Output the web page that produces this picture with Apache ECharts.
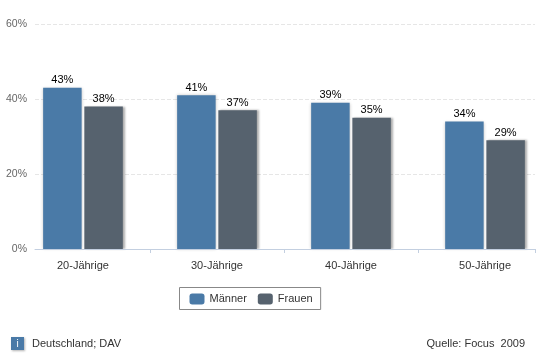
<!DOCTYPE html>
<html><head><meta charset="utf-8">
<style>html,body{margin:0;padding:0;background:#fff}#c{width:540px;height:361px}</style>
<script src="https://cdn.jsdelivr.net/npm/echarts@6/dist/echarts.min.js"></script>
</head><body><div id="c"></div>
<script>
const categories = ["20-Jährige","30-Jährige","40-Jährige","50-Jährige"];
const maenner = [43,41,39,34];
const frauen = [38,37,35,29];
const yTicks = [0,20,40,60];
const positions = categories.map((_,i)=>i);
const boundaries = [0.5,1.5,2.5,3.373];
const F = '"Liberation Sans", Arial, sans-serif';
const chart = echarts.init(document.getElementById('c'),null,{renderer:'canvas'});
const lab = {show:true,position:'top',distance:2,formatter:p=>p.value[1]+'%',color:'#000',fontFamily:F,fontSize:11};
const plain = c => ({color:c,borderWidth:0,shadowBlur:0,shadowOffsetX:0,shadowOffsetY:0,borderRadius:2});
chart.setOption({
  animation:false,
  backgroundColor:'#fff',
  grid:{left:35,right:5,top:24,height:225},
  xAxis:{type:'value',min:-0.358,max:3.373,z:5,
    axisLine:{show:true,onZero:false,lineStyle:{color:'#c3cfe0',width:1}},
    axisTick:{show:true,length:4,customValues:boundaries,lineStyle:{color:'#c3cfe0'}},
    axisLabel:{show:true,customValues:positions,margin:11,formatter:v=>categories[Math.round(v)],color:'#333',fontFamily:F,fontSize:11},
    splitLine:{show:false}},
  yAxis:{type:'value',min:yTicks[0],max:yTicks[3],interval:20,
    axisLine:{show:false},axisTick:{show:false},
    axisLabel:{formatter:'{value}%',color:'#666',fontFamily:F,fontSize:10.5,margin:8,padding:[3,0,0,0]},
    splitLine:{show:true,lineStyle:{color:'#e6e6e6',type:'dashed',width:1}}},
  legend:{left:179.5,top:287.5,orient:'horizontal',show:true,
    padding:[6,8,5,10],itemGap:11,itemWidth:15,itemHeight:11,borderColor:'#888',borderWidth:1,borderRadius:0,
    textStyle:{color:'#333',fontFamily:F,fontSize:11},
    data:[{name:'Männer',itemStyle:plain('#4a7aa7')},{name:'Frauen',itemStyle:plain('#56626e')}]},
  series:[
    {name:'Männer',type:'bar',barWidth:38.5,barGap:'7%',data:positions.map(i=>[i,maenner[i]]),
     itemStyle:{color:'#4a7aa7',shadowColor:'rgba(0,0,0,0.22)',shadowBlur:3,shadowOffsetX:0,shadowOffsetY:0},label:lab},
    {name:'Frauen',type:'bar',barWidth:38.5,barGap:'7%',data:positions.map(i=>[i,frauen[i]]),
     itemStyle:{color:'#56626e',shadowColor:'rgba(0,0,0,0.32)',shadowBlur:2,shadowOffsetX:2,shadowOffsetY:0},label:lab}
  ],
  graphic:[
    {type:'rect',left:11,top:337,shape:{width:13,height:13},style:{fill:'#4a7aa7',shadowColor:'rgba(0,0,0,.3)',shadowBlur:2,shadowOffsetX:1,shadowOffsetY:1}},
    {type:'text',left:16.5,top:339,style:{text:'i',fill:'#fff',font:'10px '+F}},
    {type:'text',left:32,top:338,style:{text:'Deutschland; DAV',fill:'#333',font:'11px '+F}},
    {type:'text',right:15,top:338,style:{text:'Quelle: Focus  2009',fill:'#333',font:'11px '+F}}
  ]
});
</script></body></html>
